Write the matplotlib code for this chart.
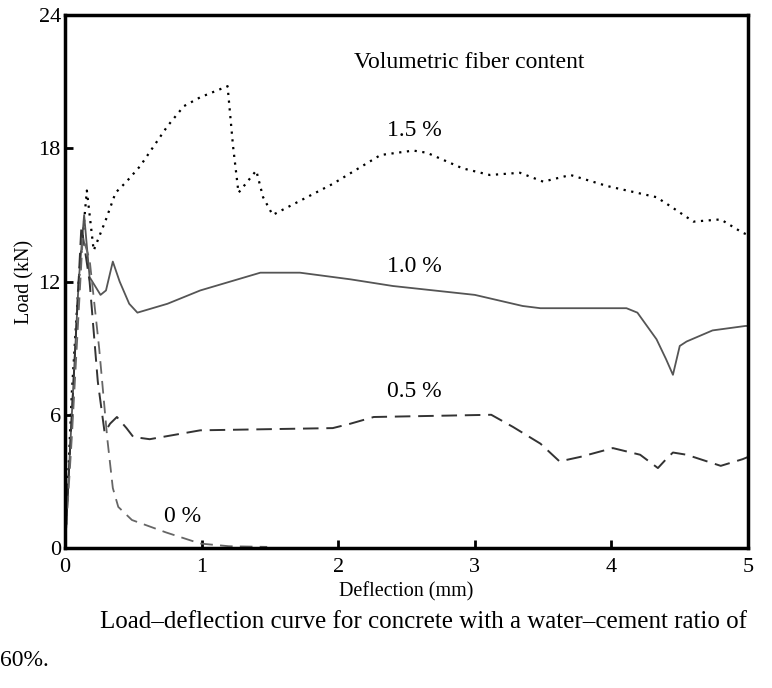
import matplotlib
matplotlib.use('Agg')
import matplotlib.pyplot as plt

plt.rcParams['font.family'] = ['Liberation Serif', 'DejaVu Serif']

# %% Dane (ugięcie w mm, obciążenie w kN)
defl_15 = [0, 0.05, 0.10, 0.16, 0.21, 0.30, 0.37, 0.45, 0.55, 0.75, 0.87, 0.99, 1.19,
           1.23, 1.27, 1.40, 1.45, 1.52, 1.96, 2.31, 2.55, 2.65, 2.91, 3.11, 3.33, 3.50,
           3.70, 3.97, 4.33, 4.43, 4.60, 4.80, 4.96, 5.0]
load_15 = [0, 7, 12, 16.1, 13.4, 14.8, 16.0, 16.5, 17.2, 19.0, 19.9, 20.3, 20.8,
           18.1, 16.0, 17.0, 15.8, 15.0, 16.4, 17.7, 17.9, 17.8, 17.1, 16.8, 16.9, 16.5,
           16.8, 16.3, 15.8, 15.4, 14.7, 14.8, 14.2, 14.1]

defl_10 = [0, 0.05, 0.10, 0.14, 0.18, 0.26, 0.30, 0.35, 0.40, 0.47, 0.53, 0.75, 0.99,
           1.43, 1.72, 2.09, 2.40, 3.00, 3.35, 3.48, 4.11, 4.19, 4.33, 4.40, 4.45, 4.50,
           4.55, 4.74, 4.98, 5.0]
load_10 = [0, 6, 12, 15.0, 12.2, 11.4, 11.6, 12.9, 12.0, 11.0, 10.6, 11.0, 11.6,
           12.4, 12.4, 12.1, 11.8, 11.4, 10.9, 10.8, 10.8, 10.6, 9.4, 8.5, 7.8, 9.1,
           9.3, 9.8, 10.0, 10.0]

defl_05 = [0, 0.05, 0.12, 0.18, 0.24, 0.29, 0.33, 0.38, 0.45, 0.50, 0.62, 0.99, 1.96,
           2.09, 2.26, 3.12, 3.28, 3.48, 3.62, 3.77, 4.01, 4.21, 4.34, 4.40, 4.45, 4.55,
           4.80, 4.96, 5.0]
load_05 = [0, 6, 14.5, 12, 7.5, 5.2, 5.6, 5.9, 5.4, 5.0, 4.9, 5.3, 5.4,
           5.6, 5.9, 6.0, 5.45, 4.7, 3.9, 4.1, 4.5, 4.2, 3.6, 4.0, 4.3, 4.2,
           3.7, 4.0, 4.1]

defl_0 = [0, 0.05, 0.13, 0.18, 0.25, 0.31, 0.35, 0.39, 0.49, 0.74, 0.99, 1.2, 1.48]
load_0 = [0, 5, 14, 13, 9, 4.9, 2.7, 1.85, 1.26, 0.7, 0.2, 0.08, 0.05]

x_ticks = [0, 1, 2, 3, 4, 5]
y_ticks = [0, 6, 12, 18, 24]

# %% Wykres
fig = plt.figure(figsize=(7.72, 6.88), dpi=100)
ax = fig.add_axes([0.0842, 0.2035, 0.8848, 0.7745])

ax.plot(defl_15, load_15, color='black', linewidth=1.6, linestyle=(0, (1, 2.5)))
ax.plot(defl_10, load_10, color='#555555', linewidth=1.3, linestyle='-')
ax.plot(defl_05, load_05, color='#333333', linewidth=1.4, linestyle=(0, (8, 4)))
ax.plot(defl_0, load_0, color='#666666', linewidth=1.3, linestyle=(0, (7, 4)))

ax.set_xlim(0, 5)
ax.set_ylim(0, 24)
ax.set_xticks(x_ticks)
ax.set_yticks(y_ticks)
ax.tick_params(direction='in', length=6, width=2, labelsize=16, pad=3)
ax.tick_params(axis='x', pad=7)
for s in ax.spines.values():
    s.set_linewidth(2.5)

ax.set_xlabel('Deflection (mm)', fontsize=14.5, labelpad=4)
ax.set_ylabel('Load (kN)', fontsize=14.5, labelpad=3)

ax.text(2.96, 21.85, 'Volumetric fiber content', fontsize=17, ha='center', va='center')
ax.text(2.56, 18.8, '1.5 %', fontsize=17, ha='center', va='center')
ax.text(2.56, 12.7, '1.0 %', fontsize=17, ha='center', va='center')
ax.text(2.56, 7.07, '0.5 %', fontsize=17, ha='center', va='center')
ax.text(0.86, 1.4, '0 %', fontsize=17, ha='center', va='center')

fig.text(0.1295, 1 - 622 / 688, 'Load\u2013deflection curve for concrete with a water\u2013cement ratio of',
         fontsize=18, ha='left', va='center')
fig.text(0.0, 1 - 660 / 688, '60%.', fontsize=17, ha='left', va='center')

plt.savefig('out.png', dpi=100)
